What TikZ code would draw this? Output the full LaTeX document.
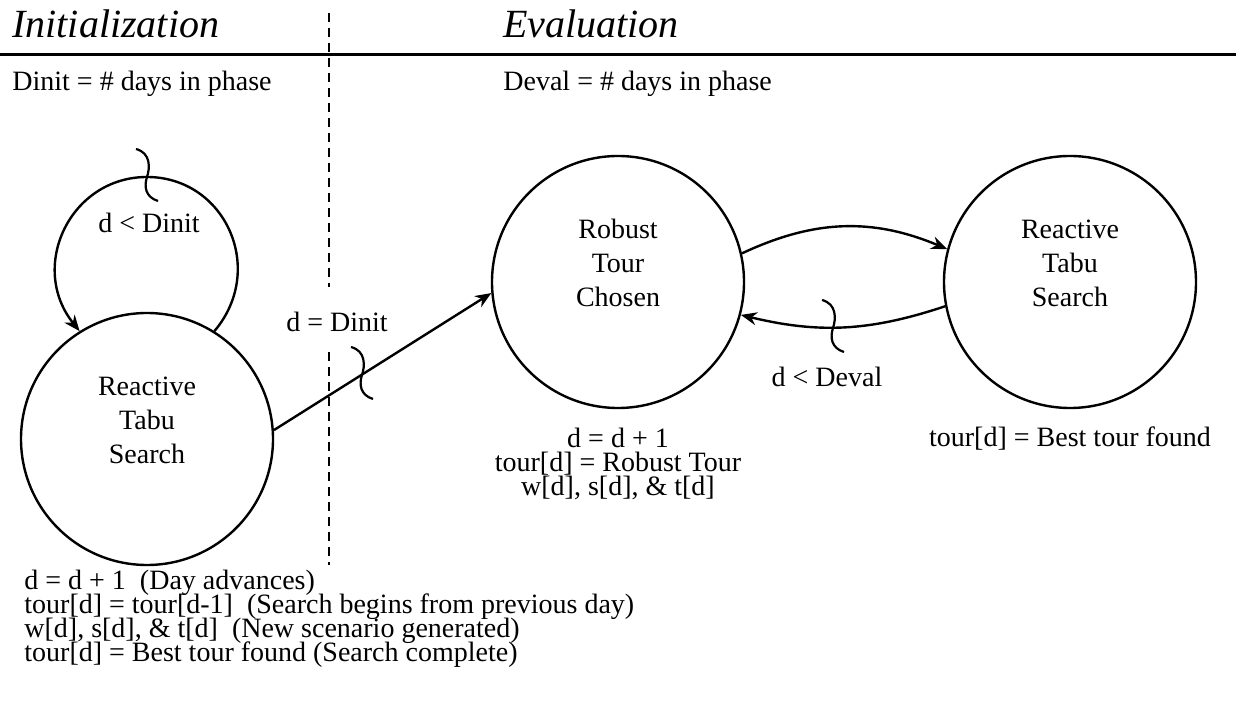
\documentclass[tikz,border=0pt]{standalone}
\usepackage{fontspec}
\setmainfont{Liberation Serif}
\usetikzlibrary{arrows.meta,positioning}
\lineskiplimit=-100pt
\tikzset{
  state/.style={draw, circle, line width=1.2pt, minimum size=126pt, inner sep=0pt},
  statetxt/.style={align=center, font=\fontsize{14}{17}\selectfont},
  lbl/.style={inner sep=0pt, font=\fontsize{14}{12}\selectfont},
  phase/.style={anchor=base west, inner sep=0pt, font=\fontsize{20}{24}\selectfont\itshape},
  arr/.style={line width=1.2pt, -{Stealth[length=8pt,width=6.5pt]}},
  brk/.pic={\draw[line width=1.1pt] (-11,-28) .. controls (4,-24) and (3,-9) .. (0,0) .. controls (-3,9) and (-2,20) .. (11,24);}
}
\begin{document}
\begin{tikzpicture}[x=0.5pt,y=-0.5pt]
    \useasboundingbox (0,0) rectangle (1236,710);
    % phases
    \draw[line width=1.5pt] (0,55) -- (1236,55);
    \coordinate (vtop) at (329,13); \coordinate (vgap1) at (329,287);
    \coordinate (vgap2) at (329,352); \coordinate (vbot) at (329,565);
    \draw[line width=1.2pt, dash pattern=on 4.5pt off 3pt] (vtop) -- (vgap1) (vgap2) -- (vbot);
    \node[phase] (init) at (12,38) {Initialization};
    \node[phase] (eval) at (503,38) {Evaluation};
    \node[lbl, anchor=base west] (dinit) at (12,91) {Dinit = \# days in phase};
    \node[lbl, anchor=base west] (deval) at (503,91) {Deval = \# days in phase};
    % states
    \node[state, label={[statetxt, yshift=9.5pt]center:Reactive\\Tabu\\Search}] (rts1) at (147,439) {};
    \node[state, label={[statetxt, yshift=9.5pt]center:Robust\\Tour\\Chosen}] (rtc) at (618,282) {};
    \node[state, label={[statetxt, yshift=9.5pt]center:Reactive\\Tabu\\Search}] (rts2) at (1070,282) {};
    \node[lbl, align=left, anchor=north west] (steps) at (24,570)
        {d = d + 1\ \ (Day advances)\\
         tour[d] = tour[d-1]\ \ (Search begins from previous day)\\
         w[d], s[d], \& t[d]\ \ (New scenario generated)\\
         tour[d] = Best tour found (Search complete)};
    \node[lbl, align=center, below=9pt of rtc] (rtcinfo) {d = d + 1\\tour[d] = Robust Tour\\w[d], s[d], \& t[d]};
    \node[lbl, below=8.5pt of rts2] (rtsinfo) {tour[d] = Best tour found};
    % transitions
    \coordinate (looptop) at (147,177);
    \draw[arr] (rts1.58) .. controls (267,269) and (225,177) .. (looptop)
        .. controls (70,177) and (28,267) .. (rts1.122);
    \draw[arr] (rts1.4) -- (rtc.185);
    \draw[arr] (rtc.13) to[bend left=24] (rts2.165);
    \draw[arr] (rts2.191) to[bend left=16] (rtc.345);
    \node[lbl] (dltinit) at (149,223) {d < Dinit};
    \node[lbl] (deqinit) at (337,322) {d = Dinit};
    \node[lbl] (dltdeval) at (827,377) {d < Deval};
    \pic at (looptop) {brk};
    \pic at (362,375) {brk};
    \pic at (833,328) {brk};
\end{tikzpicture}
\end{document}
